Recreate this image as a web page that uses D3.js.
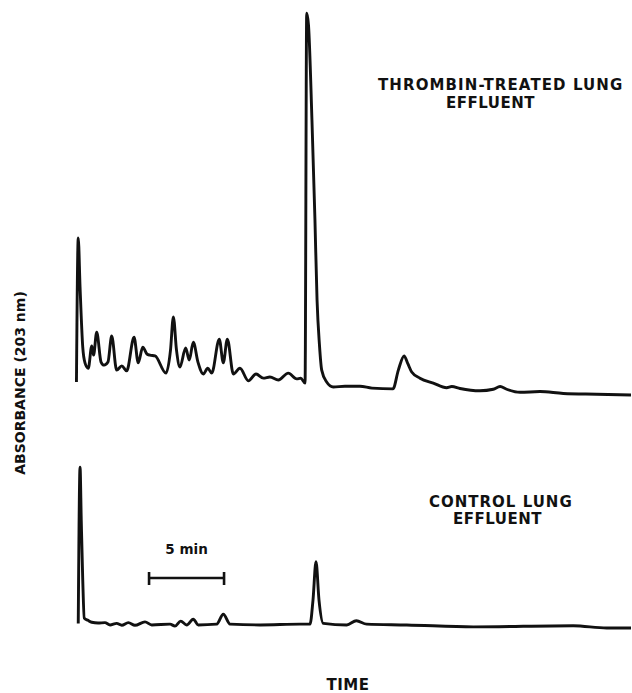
<!DOCTYPE html>
<html>
<head>
<meta charset="utf-8">
<script src="https://cdn.jsdelivr.net/npm/d3@7"></script>
<style>
  body { margin: 0; background: #fff; }
  .lbl { font-family: "DejaVu Sans", sans-serif; font-weight: bold; fill: #111; }
</style>
</head>
<body>
<svg id="chromatogram"></svg>
<script>
var width = 632, height = 693;

// retention time (min) and relative absorbance, thrombin-treated effluent
var treatedTime = [0.03, 0.15, 0.27, 0.45, 0.60, 0.82, 1.05, 1.17, 1.38, 1.67, 1.87, 2.13, 2.38, 2.71,
  3.05, 3.38, 3.87, 4.15, 4.45, 4.73, 4.93, 5.27, 6.0, 6.3, 6.49, 6.7, 6.93, 7.31, 7.55, 7.82,
  8.13, 8.49, 8.78, 9.05, 9.55, 9.82, 10.09, 10.49, 10.93, 11.49, 12.0, 12.49, 12.93, 13.49,
  14.15, 14.71, 14.98, 15.27, 15.38, 15.5, 15.73, 15.93, 16.07, 16.23, 16.38, 16.71, 17.15,
  17.93, 18.93, 19.73, 21.13, 21.49, 21.87, 22.13, 22.38, 22.93, 23.82, 24.71, 25.05, 25.6,
  26.93, 27.82, 28.27, 28.71, 29.6, 30.93, 32.49, 34.71, 37.0];
var treatedAbs = [3.4, 41.0, 28.2, 12.5, 8.4, 7.0, 12.8, 10.4, 16.4, 8.6, 7.8, 8.6, 15.4, 6.5,
  7.6, 6.3, 15.1, 8.4, 12.5, 10.7, 10.4, 10.2, 5.7, 11.7, 20.4, 11.7, 7.3, 12.3, 9.1, 13.8,
  8.6, 5.5, 7.0, 5.7, 14.6, 8.4, 14.6, 5.5, 7.0, 3.7, 5.5, 4.4, 4.7, 3.9,
  5.7, 4.2, 4.4, 3.1, 99.7, 96.6, 71.8, 45.7, 24.8, 13.1, 6.5, 3.4, 2.1,
  2.3, 2.3, 1.8, 1.6, 6.5, 10.2, 8.1, 6.0, 4.4, 3.1, 1.9, 2.2, 1.7,
  1.1, 1.5, 2.2, 1.5, 0.7, 0.9, 0.4, 0.2, 0.0];

// control effluent
var controlTime = [0.15, 0.27, 0.35, 0.45, 0.55, 0.8, 1.05, 1.47, 1.93, 2.27, 2.71, 3.05, 3.49,
  3.93, 4.6, 5.05, 6.27, 6.6, 6.98, 7.38, 7.82, 8.15, 9.38, 9.82, 10.27, 12.27, 14.93, 15.6,
  15.8, 16.0, 16.2, 16.49, 18.05, 18.69, 19.38, 22.05, 26.49, 33.15, 35.38, 37.0];
var controlAbs = [1.2, 42.0, 28.2, 12.5, 2.6, 2.0, 1.5, 1.3, 1.4, 0.8, 1.2, 0.7, 1.4,
  0.7, 1.6, 0.8, 1.0, 0.5, 1.8, 0.8, 2.3, 0.8, 1.0, 3.6, 1.0, 0.8, 1.0, 1.0,
  7.3, 17.3, 7.3, 1.2, 0.8, 1.9, 1.0, 0.8, 0.3, 0.6, 0.0, 0.0];

var scaleBarMinutes = [4.87, 9.87];

var svg;

document.addEventListener('DOMContentLoaded', function () {
  svg = d3.select('#chromatogram')
    .attr("width", width)
    .attr("height", height);
  drawChromatogram();
});

function drawChromatogram() {
  var x = d3.scaleLinear().domain([0, 37]).range([76, 631]);
  // each trace has its own baseline, same gain
  var yTop = d3.scaleLinear().domain([0, 100]).range([395, 12]);
  var yBottom = d3.scaleLinear().domain([0, 100]).range([628, 245]);

  var treated = treatedTime.map(function (t, i) { return [t, treatedAbs[i]]; });
  var control = controlTime.map(function (t, i) { return [t, controlAbs[i]]; });

  svg.append("path")
    .datum(treated)
    .attr("fill", "none")
    .attr("stroke", "#111")
    .attr("stroke-width", 2.9)
    .attr("stroke-linejoin", "round")
    .attr("d", d3.line()
      .curve(d3.curveMonotoneX)
      .x(function (d) { return x(d[0]); })
      .y(function (d) { return yTop(d[1]); })
    );

  svg.append("path")
    .datum(control)
    .attr("fill", "none")
    .attr("stroke", "#111")
    .attr("stroke-width", 2.9)
    .attr("stroke-linejoin", "round")
    .attr("d", d3.line()
      .curve(d3.curveMonotoneX)
      .x(function (d) { return x(d[0]); })
      .y(function (d) { return yBottom(d[1]); })
    );

  // 5 min scale bar
  var bar = svg.append("g").attr("stroke", "#111").attr("stroke-width", 2.6);
  bar.append("line")
    .attr("x1", x(scaleBarMinutes[0])).attr("x2", x(scaleBarMinutes[1]))
    .attr("y1", 578).attr("y2", 578);
  bar.selectAll(".cap")
    .data(scaleBarMinutes)
    .enter().append("line")
    .attr("x1", function (d) { return x(d); })
    .attr("x2", function (d) { return x(d); })
    .attr("y1", 572).attr("y2", 585);

  svg.append("text").attr("class", "lbl")
    .attr("x", x(d3.mean(scaleBarMinutes))).attr("y", 554)
    .attr("text-anchor", "middle")
    .style("font-size", "13.5px")
    .text("5 min");

  // trace labels
  svg.append("text").attr("class", "lbl")
    .attr("x", 378).attr("y", 90)
    .style("font-size", "15px").style("letter-spacing", "1.1px")
    .text("THROMBIN-TREATED LUNG");
  svg.append("text").attr("class", "lbl")
    .attr("x", 446).attr("y", 108)
    .style("font-size", "15px").style("letter-spacing", "0.5px")
    .text("EFFLUENT");
  svg.append("text").attr("class", "lbl")
    .attr("x", 429).attr("y", 507)
    .style("font-size", "15px").style("letter-spacing", "1px")
    .text("CONTROL LUNG");
  svg.append("text").attr("class", "lbl")
    .attr("x", 453).attr("y", 524)
    .style("font-size", "15px").style("letter-spacing", "0.5px")
    .text("EFFLUENT");

  // axis titles
  svg.append("text").attr("class", "lbl")
    .attr("x", 348).attr("y", 690)
    .attr("text-anchor", "middle")
    .style("font-size", "15px").style("letter-spacing", "0.5px")
    .text("TIME");
  svg.append("text").attr("class", "lbl")
    .attr("transform", "translate(25,383) rotate(-90)")
    .attr("text-anchor", "middle")
    .style("font-size", "14px")
    .text("ABSORBANCE (203 nm)");
}
</script>
</body>
</html>
